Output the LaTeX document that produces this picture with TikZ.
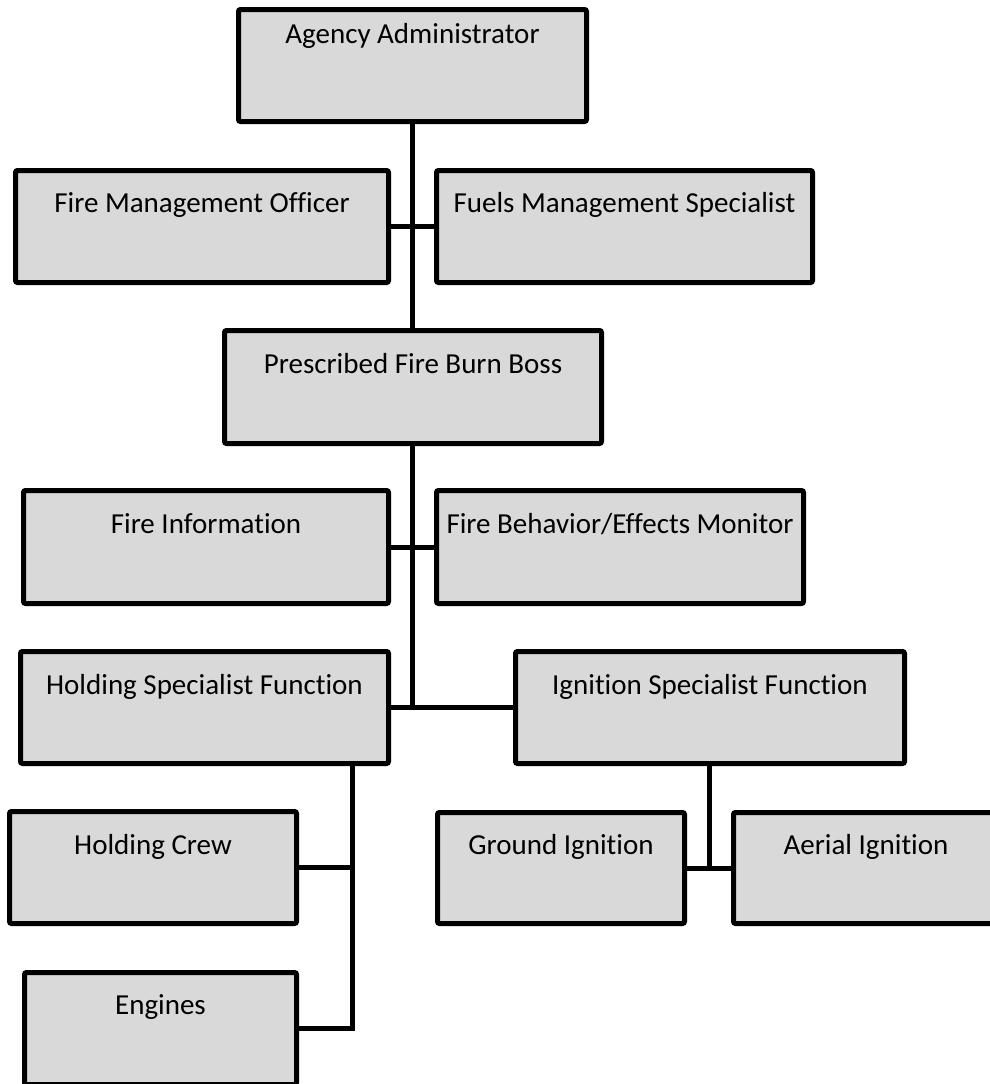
\documentclass[tikz,border=0pt]{standalone}
\usepackage{fontspec}
\setmainfont{Carlito}[Ligatures=NoCommon]
\usetikzlibrary{backgrounds}
\definecolor{boxgray}{HTML}{D9D9D9}
\tikzset{
  orgbox/.style={draw=black, fill=boxgray, line width=5pt, rounded corners=2pt,
    inner sep=0pt, outer sep=0pt, align=center, font=\fontsize{29}{34}\selectfont},
  link/.style={draw=black, line width=5pt, line cap=rect}
}
\newcommand\orgnode[7]{%
  \pgfmathsetmacro\ow{#4-#2-5}%
  \pgfmathsetmacro\oh{#5-#3-5}%
  \pgfmathsetmacro\ob{#6-#3-2.5}%
  \pgfmathsetmacro\od{\oh-\ob}%
  \node[orgbox, minimum width=\ow pt, text height=\ob pt, text depth=\od pt] (#1) at ({(#2+#4)/2},{(#3+#5)/2}) {#7};}
\begin{document}
\begin{tikzpicture}[x=1pt,y=-1pt]
\useasboundingbox (0,0) rectangle (990,1084);
\clip (0,0) rectangle (990,1084);
\coordinate (hbus) at (352,0);
\coordinate (ibus) at (709,0);
\orgnode{A}{236}{7}{589}{124}{43}{Agency Administrator}
\orgnode{FMO}{13}{168}{391}{285}{212}{Fire Management Officer}
\orgnode{FMS}{434}{168}{815}{285}{212}{Fuels Management Specialist}
\orgnode{PB}{222}{328}{604}{446}{373}{Prescribed Fire Burn Boss}
\orgnode{FI}{21}{488}{391}{606}{533}{Fire Information}
\orgnode{FB}{434}{488}{806}{606}{533}{Fire Behavior/Effects Monitor}
\orgnode{HS}{18}{649}{391}{766}{694}{Holding Specialist Function}
\orgnode{IS}{513}{649}{907}{766}{694}{Ignition Specialist Function}
\orgnode{HC}{7}{809}{299}{926}{854}{Holding Crew}
\orgnode{GI}{435}{810}{687}{926}{854}{Ground Ignition}
\orgnode{AI}{731}{810}{1001}{926}{854}{Aerial Ignition}
\orgnode{EN}{22}{970}{299}{1087}{1014}{Engines}
\begin{scope}[on background layer]
\draw[link] (A.south) -- (A.south |- HS.east);
\draw[link] (FMO.east) -- (FMS.west);
\draw[link] (FI.east) -- (FB.west);
\draw[link] (HS.east) -- (IS.west);
\draw[link] (HS.south -| hbus) |- (EN.east);
\draw[link] (HC.east) -- (HC.east -| hbus);
\draw[link] (IS.south -| ibus) -- (ibus |- GI.east);
\draw[link] (GI.east) -- (AI.west);
\end{scope}
\end{tikzpicture}
\end{document}
